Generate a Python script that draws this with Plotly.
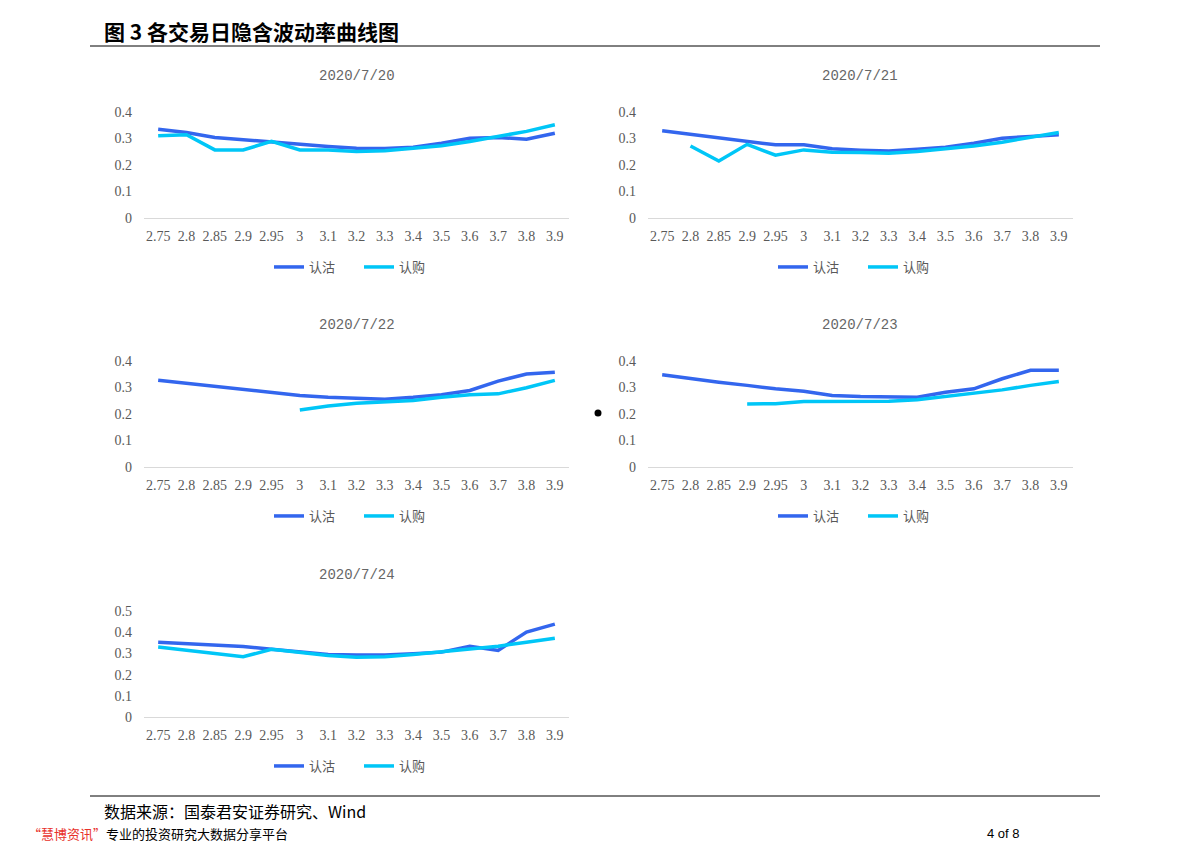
import plotly.graph_objects as go

W, H = 1191, 841
OFF = 8  # page offset of the figure (body margin)

strikes = ["2.75", "2.8", "2.85", "2.9", "2.95", "3", "3.1", "3.2", "3.3", "3.4", "3.5", "3.6", "3.7", "3.8", "3.9"]

dates = ["2020/7/20", "2020/7/21", "2020/7/22", "2020/7/23", "2020/7/24"]

put_0720 = [0.335, 0.323, 0.304, 0.295, 0.285, 0.276, 0.270, 0.263, 0.262, 0.267, 0.282, 0.301, 0.304, 0.297, 0.320]
call_0720 = [0.310, 0.314, 0.257, 0.257, 0.289, 0.257, 0.257, 0.251, 0.254, 0.262, 0.273, 0.289, 0.308, 0.327, 0.352]

put_0721 = [0.329, 0.316, 0.304, 0.291, 0.276, 0.276, 0.261, 0.256, 0.253, 0.259, 0.267, 0.282, 0.301, 0.308, 0.314]
call_0721 = [None, 0.272, 0.215, 0.278, 0.237, 0.257, 0.248, 0.247, 0.244, 0.251, 0.261, 0.272, 0.286, 0.305, 0.323]

put_0722 = [0.327, 0.316, 0.306, 0.295, 0.282, 0.270, 0.263, 0.259, 0.256, 0.263, 0.273, 0.289, 0.324, 0.351, 0.358]
call_0722 = [None, None, None, None, None, 0.215, 0.230, 0.241, 0.246, 0.251, 0.263, 0.273, 0.276, 0.299, 0.327]

put_0723 = [0.348, 0.333, 0.320, 0.308, 0.295, 0.286, 0.270, 0.266, 0.265, 0.263, 0.282, 0.295, 0.333, 0.365, 0.365]
call_0723 = [None, None, None, 0.238, 0.239, 0.247, 0.248, 0.247, 0.248, 0.254, 0.266, 0.278, 0.291, 0.308, 0.323]

put_0724 = [0.353, 0.345, 0.341, 0.333, 0.320, 0.309, 0.295, 0.293, 0.292, 0.298, 0.306, 0.334, 0.314, 0.401, 0.438]
call_0724 = [0.330, 0.315, 0.300, 0.284, 0.319, 0.306, 0.290, 0.282, 0.284, 0.295, 0.309, 0.319, 0.334, 0.353, 0.371]

y_max = [0.4, 0.4, 0.4, 0.4, 0.5]
y_ticks = [[0, 0.1, 0.2, 0.3, 0.4], [0, 0.1, 0.2, 0.3, 0.4], [0, 0.1, 0.2, 0.3, 0.4],
           [0, 0.1, 0.2, 0.3, 0.4], [0, 0.1, 0.2, 0.3, 0.4, 0.5]]
y_tick_text = [["0", "0.1", "0.2", "0.3", "0.4"]] * 4 + [["0", "0.1", "0.2", "0.3", "0.4", "0.5"]]

series_put = [put_0720, put_0721, put_0722, put_0723, put_0724]
series_call = [call_0720, call_0721, call_0722, call_0723, call_0724]

PUT_NAME = "认沽"
CALL_NAME = "认购"
PUT_COLOR = "#3366EE"
CALL_COLOR = "#00C6F7"
GREY = "#595959"

# panel geometry in page pixels: (left, right, top(y of max), bottom(y of 0))
panels = [
    (144, 569, 112, 218),
    (648, 1073, 112, 218),
    (144, 569, 361, 467),
    (648, 1073, 361, 467),
    (144, 569, 611, 717),
]

def px_x(p):
    return (p - OFF) / W

def px_y(p):
    return 1 - (p - OFF) / H

fig = go.Figure()
layout_axes = {}
annotations = []
for i, (l, r, t, b) in enumerate(panels):
    n = "" if i == 0 else str(i + 1)
    xa = "x" + n
    ya = "y" + n
    lg = "legend" + n
    fig.add_trace(go.Scatter(x=strikes, y=series_put[i], name=PUT_NAME, mode="lines",
                             line=dict(color=PUT_COLOR, width=3.5), xaxis=xa, yaxis=ya,
                             legend=lg, connectgaps=False))
    fig.add_trace(go.Scatter(x=strikes, y=series_call[i], name=CALL_NAME, mode="lines",
                             line=dict(color=CALL_COLOR, width=3.5), xaxis=xa, yaxis=ya,
                             legend=lg, connectgaps=False))
    layout_axes["xaxis" + n] = dict(
        domain=[px_x(l), px_x(r)], anchor=ya, type="category",
        categoryorder="array", categoryarray=strikes,
        range=[-0.5, len(strikes) - 0.5],
        showgrid=False, zeroline=False, showline=True, linecolor="#D9D9D9", linewidth=1,
        ticks="", tickfont=dict(family="Liberation Serif", size=14, color=GREY),
        ticklabelstandoff=5, fixedrange=True, automargin=False,
    )
    layout_axes["yaxis" + n] = dict(
        domain=[px_y(b), px_y(t)], anchor=xa, range=[0, y_max[i]],
        tickvals=y_ticks[i], ticktext=y_tick_text[i],
        showgrid=False, zeroline=False, showline=False, ticks="",
        tickfont=dict(family="Liberation Serif", size=14, color=GREY),
        ticklabelstandoff=11, fixedrange=True, automargin=False,
    )
    layout_axes[lg] = dict(
        orientation="h", x=px_x(l + 125), xanchor="left",
        y=px_y(b + 49), yanchor="middle",
        font=dict(family="Noto Sans CJK SC", size=13, color=GREY),
        bgcolor="rgba(0,0,0,0)", entrywidth=45, entrywidthmode="pixels",
        tracegroupgap=0,
    )
    annotations.append(dict(
        text=dates[i], x=px_x((l + r) / 2), y=px_y(b - 142), xref="paper", yref="paper",
        xanchor="center", yanchor="middle", showarrow=False,
        font=dict(family="Liberation Mono", size=14, color="#666666"),
    ))

annotations.append(dict(
    text="<b>图 3 各交易日隐含波动率曲线图</b>", x=px_x(102), y=px_y(31), xref="paper", yref="paper",
    xanchor="left", yanchor="middle", showarrow=False,
    font=dict(family="Noto Sans CJK SC", size=21, color="#000000"),
))
annotations.append(dict(
    text="数据来源：国泰君安证券研究、Wind", x=px_x(102), y=px_y(811), xref="paper", yref="paper",
    xanchor="left", yanchor="middle", showarrow=False,
    font=dict(family="Noto Sans CJK SC", size=16, color="#000000"),
))
annotations.append(dict(
    text="<span style='color:#E8302A'>“慧博资讯”</span>专业的投资研究大数据分享平台",
    x=px_x(26), y=px_y(833), xref="paper", yref="paper",
    xanchor="left", yanchor="middle", showarrow=False,
    font=dict(family="Noto Sans CJK SC", size=13, color="#000000"),
))
annotations.append(dict(
    text="4 of 8", x=px_x(985), y=px_y(833), xref="paper", yref="paper",
    xanchor="left", yanchor="middle", showarrow=False,
    font=dict(family="Liberation Sans", size=13, color="#000000"),
))

shapes = [
    dict(type="line", xref="paper", yref="paper", x0=px_x(90), x1=px_x(1100), y0=px_y(46), y1=px_y(46),
         line=dict(color="#000000", width=1)),
    dict(type="line", xref="paper", yref="paper", x0=px_x(90), x1=px_x(1100), y0=px_y(796), y1=px_y(796),
         line=dict(color="#000000", width=1)),
    dict(type="circle", xref="paper", yref="paper", x0=px_x(594.5), x1=px_x(601.5), y0=px_y(409.5), y1=px_y(416.5),
         fillcolor="#000000", line=dict(color="#000000", width=0)),
]

fig.update_layout(
    width=W, height=H, margin=dict(l=0, r=0, t=0, b=0, pad=0, autoexpand=False),
    paper_bgcolor="#FFFFFF", plot_bgcolor="#FFFFFF",
    showlegend=True, annotations=annotations, shapes=shapes,
    **layout_axes,
)

fig.write_html("out.html")
